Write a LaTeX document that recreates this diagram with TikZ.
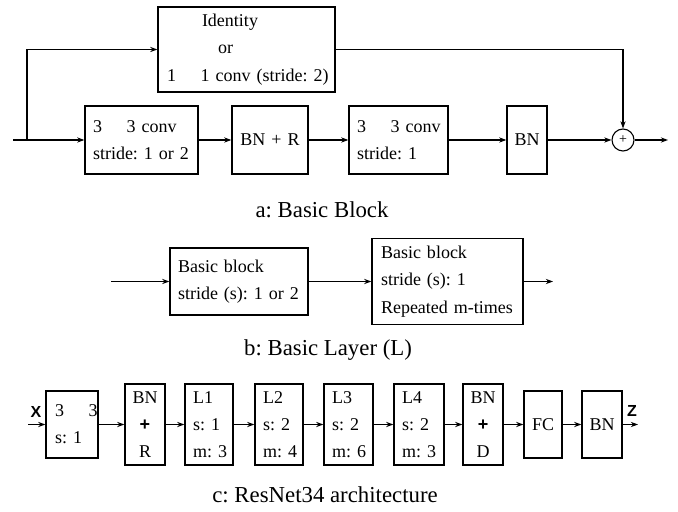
\documentclass[tikz,border=0pt]{standalone}
\usepackage{fontspec}
\setmainfont{Liberation Serif}
\setsansfont{Liberation Sans}
\usetikzlibrary{arrows.meta}
\frenchspacing
\newcommand{\boxfont}{\fontsize{9}{13.6}\selectfont\frenchspacing\spaceskip=3pt\relax}
\begin{document}
\begin{tikzpicture}[x=0.5pt,y=-0.5pt,
  every node/.style={font=\boxfont},
  lbox/.style n args={3}{draw, line width=0.65pt, inner xsep=#3, inner ysep=0pt,
     text width=#1, minimum height=#2, align=left},
  cbox/.style 2 args={draw, line width=0.65pt, inner sep=0pt,
     minimum width=#1, minimum height=#2, align=center},
  arr/.style={line width=0.55pt, -{Stealth[length=3.6pt,width=2.6pt]}},
  ln/.style={line width=0.55pt},
  captext/.style={font=\fontsize{11.4}{13}\selectfont\frenchspacing},
  io/.style={font=\fontsize{8}{9}\sffamily\bfseries\selectfont, inner sep=0pt},
  sumnode/.style={circle, draw, line width=0.55pt, inner sep=0pt, minimum size=11pt,
     font=\fontsize{7}{8}\selectfont}
]
\useasboundingbox (0,0) rectangle (678,512);

% ---------- a: Basic Block ----------
\node[lbox={79.5pt}{42.5pt}{4.5pt}] (aid) at (246.5,49.5)
  {\mbox{\hspace*{17.5pt}Identity}\\ \mbox{\hspace*{25.5pt}or}\\ \mbox{1\hspace{12.3pt}1 conv (stride: 2)}};
\node[lbox={48.5pt}{34pt}{4pt}] (ac1) at (141.5,140) {\mbox{3\hspace{12.3pt}3 conv}\\ \mbox{stride: 1 or 2}};
\node[cbox={38pt}{34pt}] (abnr) at (270,140) {BN + R};
\node[lbox={41.5pt}{34pt}{4pt}] (ac2) at (398.5,140) {\mbox{3\hspace{12.3pt}3 conv}\\ \mbox{stride: 1}};
\node[cbox={20pt}{34pt}] (abn) at (527,140) {BN};
\node[sumnode] (aplus) at (623,140) {+};
\coordinate (ain) at (13,140);
\coordinate (abr) at (27,140);
\coordinate (aout) at (668,140);
\draw[ln] (ain) -- (abr);
\draw[arr] (abr) -- (ac1);
\draw[arr] (abr) |- (aid);
\draw[arr] (ac1) -- (abnr);
\draw[arr] (abnr) -- (ac2);
\draw[arr] (ac2) -- (abn);
\draw[arr] (abn) -- (aplus);
\draw[arr] (aid) -| (aplus);
\draw[arr] (aplus) -- (aout);
\node[captext] (capa) at (322,210) {a: Basic Block};

% ---------- b: Basic Layer ----------
\node[lbox={61pt}{33.5pt}{4pt}] (b1) at (239,281.5) {\mbox{Basic block}\\ \mbox{stride (s): 1 or 2}};
\node[lbox={66.5pt}{43pt}{4.5pt}] (b2) at (447.5,281.5) {\mbox{Basic block}\\ \mbox{stride (s): 1}\\ \mbox{Repeated m-times}};
\coordinate (bin) at (111,281.5);
\coordinate (bout) at (553,281.5);
\draw[arr] (bin) -- (b1);
\draw[arr] (b1) -- (b2);
\draw[arr] (b2) -- (bout);
\node[captext] (capb) at (328,350) {b: Basic Layer (L)};

% ---------- c: ResNet34 ----------
\node[lbox={17pt}{33.5pt}{4.5pt}] (c1) at (72,424.5) {\mbox{3\hspace{12.3pt}3}\\ \mbox{s: 1}};
\node[cbox={20pt}{40.5pt}] (cbnr) at (145,424.5) {BN\\ {\sffamily\bfseries +}\\ R};
\node[lbox={16pt}{40.5pt}{4pt}] (cl1) at (209,424.5) {\mbox{L1}\\ \mbox{s: 1}\\ \mbox{m: 3}};
\node[lbox={16pt}{40.5pt}{4pt}] (cl2) at (279,424.5) {\mbox{L2}\\ \mbox{s: 2}\\ \mbox{m: 4}};
\node[lbox={16.5pt}{40.5pt}{4pt}] (cl3) at (348.5,424.5) {\mbox{L3}\\ \mbox{s: 2}\\ \mbox{m: 6}};
\node[lbox={17pt}{40.5pt}{4pt}] (cl4) at (419,424.5) {\mbox{L4}\\ \mbox{s: 2}\\ \mbox{m: 3}};
\node[cbox={20pt}{40.5pt}] (cbnd) at (483,424.5) {BN\\ {\sffamily\bfseries +}\\ D};
\node[cbox={19pt}{33.5pt}] (cfc) at (543,424.5) {FC};
\node[cbox={20pt}{33.5pt}] (cbn) at (602,424.5) {BN};
\coordinate (cin) at (28,424.5);
\coordinate (cout) at (638,424.5);
\node[io] (X) at (36,412) {X};
\node[io] (Z) at (632,411) {Z};
\draw[arr] (cin) -- (c1);
\draw[arr] (c1) -- (cbnr);
\draw[arr] (cbnr) -- (cl1);
\draw[arr] (cl1) -- (cl2);
\draw[arr] (cl2) -- (cl3);
\draw[arr] (cl3) -- (cl4);
\draw[arr] (cl4) -- (cbnd);
\draw[arr] (cbnd) -- (cfc);
\draw[arr] (cfc) -- (cbn);
\draw[arr] (cbn) -- (cout);
\node[captext] (capc) at (325,495) {c: ResNet34 architecture};
\end{tikzpicture}
\end{document}
